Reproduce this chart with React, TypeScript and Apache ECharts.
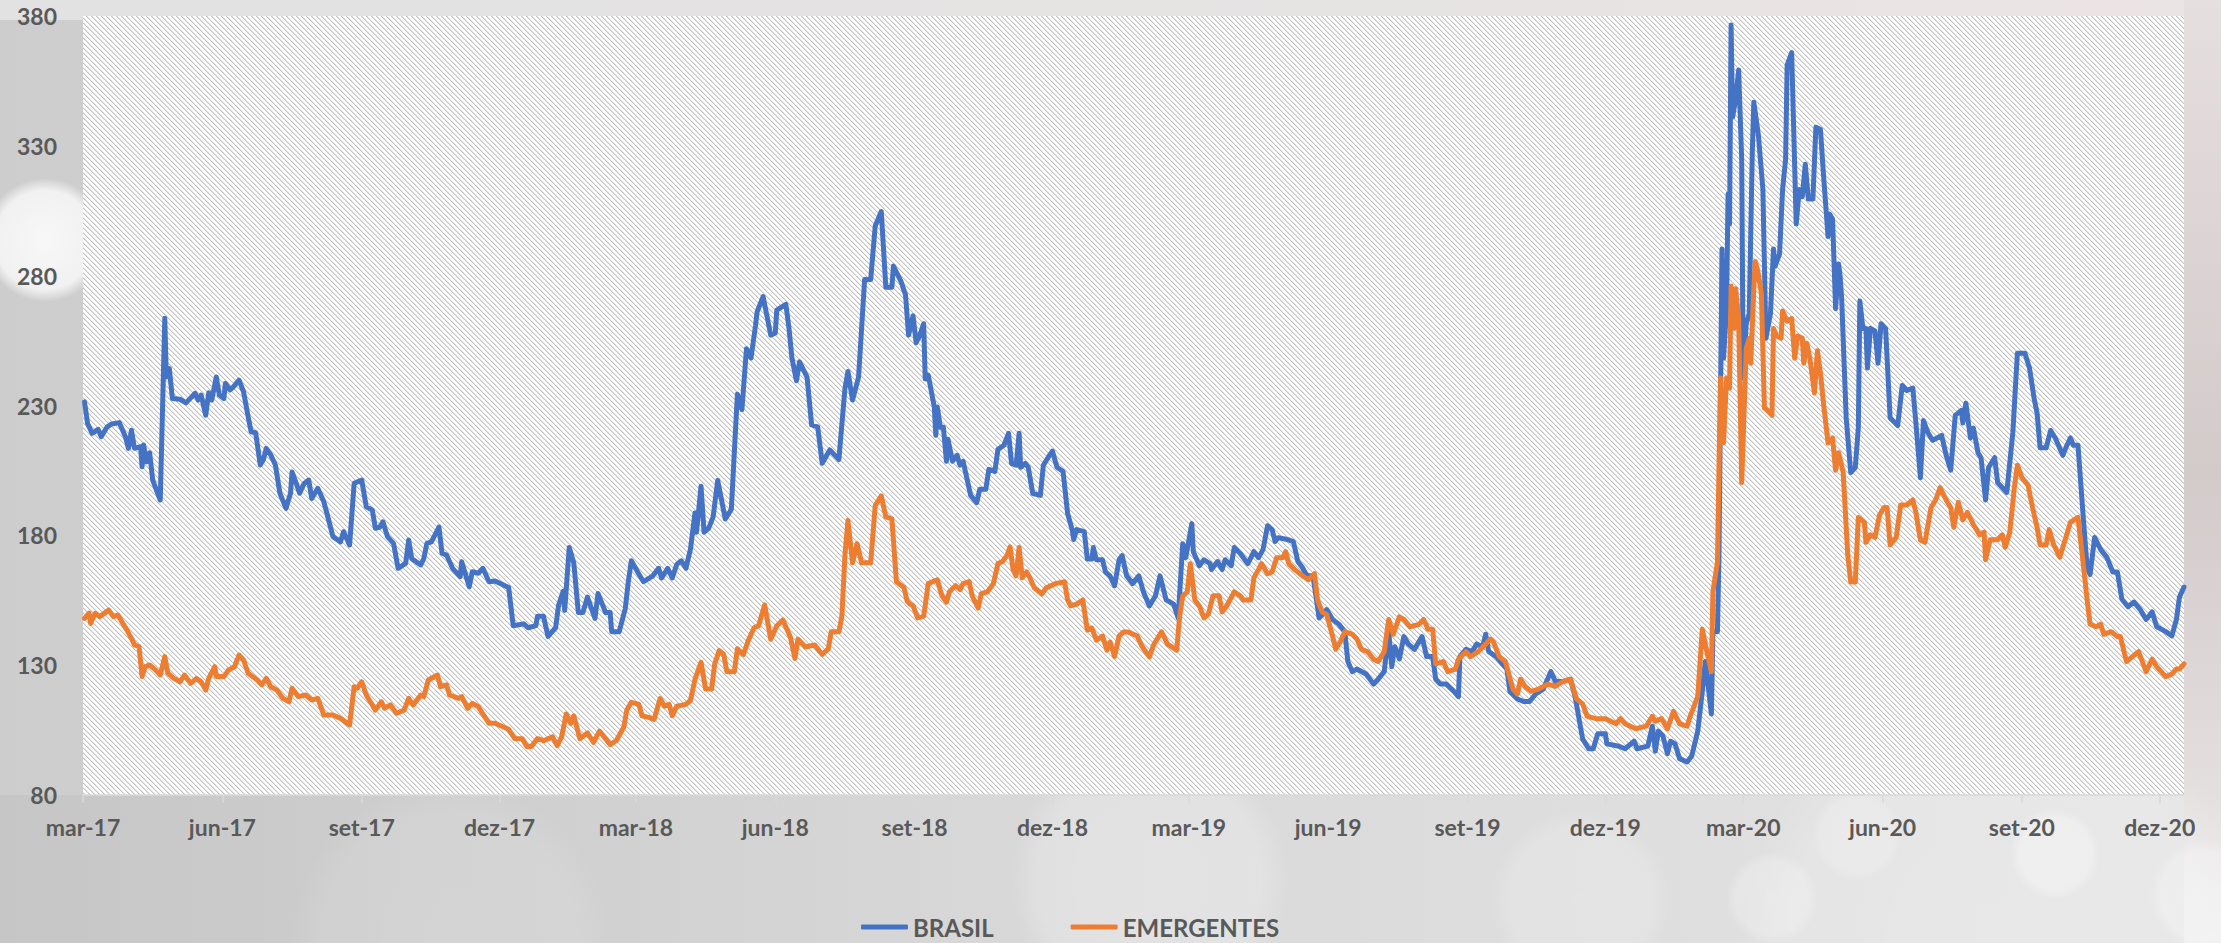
import React, { useEffect, useRef } from "react";
import * as echarts from "echarts";

// ---- axis domain ----
const START_DATE = [2017, 2, 1]; // 2017-03-01 (UTC, month 0-based)
const DAY_COUNT = 1388; // through 2020-12-17
const MONTHS_PT = ["jan", "fev", "mar", "abr", "mai", "jun", "jul", "ago", "set", "out", "nov", "dez"];
const LABEL_MONTHS = ["03", "06", "09", "12"];
const Y_MIN = 80;
const Y_MAX = 380;
const Y_STEP = 50;

// ---- series: [days since 2017-03-01, value] ----
const brasil: [number, number][] = [
  [1,231.4],[3,223.1],[6,219.3],[10,220.8],[12,218],[16,221.8],[19,222.9],[24,223.4],[28,218],[30,213.5],[32,220.5],[34,213.5],[38,214.1],[39,206.4],[40,214.8],[42,208.3],[44,211.8],[46,201.3],[51,193.6],[54,263.6],[55,241],[57,244.2],[59,232.7],[64,232.4],[68,231],[74,234.7],[76,232.1],[78,234],[81,226.3],[83,234.9],[85,232.1],[88,241],[90,234],[93,232.7],[94,238.5],[97,236],[99,237],[103,239.8],[106,235.3],[109,225.7],[111,219.9],[114,219.5],[117,207.1],[119,209],[121,213.5],[124,210.9],[127,207.1],[130,196.2],[134,190.4],[137,196.2],[138,204.4],[140,201.3],[143,196.2],[146,200],[149,201.3],[151,194.2],[155,198.1],[159,192.9],[161,188.5],[165,179.5],[170,177.5],[172,181.4],[176,176.3],[179,200],[184,201.3],[187,191],[191,189.7],[193,182.7],[196,183.2],[198,185.2],[201,179.5],[205,176.9],[208,167.3],[213,169.2],[215,178.2],[217,171.1],[220,169.8],[223,168.6],[225,171.1],[227,176.9],[230,177.5],[235,183.2],[237,173.1],[240,172.4],[244,167.3],[249,164.1],[250,169.8],[252,166],[255,160.2],[257,166],[261,165.4],[264,167.3],[268,162.1],[272,162.4],[281,159.9],[284,145.2],[291,145.9],[294,144.4],[299,145.2],[300,148.8],[304,148.8],[307,141.1],[312,144.4],[314,153.2],[317,158.4],[318,151.1],[321,175.3],[324,169.4],[327,150.3],[330,150.3],[333,156.2],[338,148],[340,157.6],[345,150.3],[348,150.3],[349,142.9],[354,142.9],[358,151.8],[360,162.2],[362,170.2],[367,165],[370,162.2],[376,164.3],[380,167.3],[382,163.6],[386,167.3],[389,163.6],[392,168.8],[395,170.2],[398,167.3],[401,174.6],[404,188.6],[405,181.2],[408,198.9],[410,181.2],[413,182.7],[416,187.1],[419,201.1],[424,186.3],[428,190],[432,234.3],[435,228.4],[438,251.9],[441,248.3],[444,260.9],[445,266],[449,271.9],[454,257.1],[457,257.9],[458,266.7],[464,268.9],[466,260.1],[468,248.3],[471,239.5],[473,246.8],[478,240.9],[481,222.5],[485,221.8],[488,207.8],[493,212.9],[499,209.2],[503,236.5],[505,243.1],[508,232.1],[512,240.9],[516,278.5],[520,278.5],[523,299.1],[527,304.7],[530,275.5],[534,275.5],[535,283.7],[540,277.8],[543,272.6],[545,257.1],[548,264.5],[550,254.2],[552,256.4],[555,261.5],[556,240.2],[558,241.7],[562,229.4],[563,218.5],[564,229.4],[566,221.6],[568,221.6],[570,208.5],[571,217],[574,208.5],[577,210.8],[579,207],[581,208.5],[586,195.4],[590,192.6],[592,197.7],[596,197.7],[598,205.4],[602,204.6],[604,213.1],[608,214.7],[611,219.3],[613,207.7],[616,207],[618,219.3],[619,206.2],[622,207.7],[624,206.2],[627,196.1],[632,195.4],[634,207],[638,210.8],[640,212.4],[643,206.2],[647,204.6],[650,188.4],[653,182.2],[654,178.4],[656,182.2],[661,181.4],[663,170.9],[666,170.9],[667,175.3],[669,170.6],[673,170.6],[675,165.9],[678,164.4],[681,160.6],[684,170.6],[686,172.2],[689,164.4],[693,161.4],[697,164.4],[700,158.3],[704,152.8],[708,156.7],[711,164.4],[715,155.2],[720,153.5],[723,148.2],[726,176.8],[728,171.4],[732,184.5],[733,173.7],[737,168.3],[740,170.6],[744,169.1],[745,166.8],[749,169.9],[752,166.8],[754,170.6],[758,168.3],[760,175.3],[764,173],[767,170.6],[769,169.1],[773,173.7],[776,171.4],[779,174.5],[782,183.7],[785,182.2],[787,177.6],[789,179.1],[795,178.4],[799,177.6],[802,169.9],[805,167.6],[808,164.4],[812,164.4],[816,148.2],[820,150.5],[821,151.4],[825,147.6],[829,145.8],[833,142.9],[835,131.4],[838,127.5],[841,128.5],[847,126.6],[852,122.7],[855,124.6],[859,127.5],[862,142.9],[864,129.4],[866,137.1],[869,132.4],[872,141],[875,138.1],[879,136.1],[884,141],[887,133.3],[891,133.3],[893,124.6],[896,122.7],[900,122.7],[905,119.9],[908,117.9],[909,133.3],[913,136.1],[917,135.2],[920,138.1],[924,137.1],[926,141.9],[928,135.2],[933,133.3],[937,130.5],[940,128.5],[942,119.9],[947,117],[951,116],[955,116],[959,118.9],[964,120.8],[969,127.5],[972,123.7],[977,123.7],[982,124.6],[985,117.9],[990,101.6],[994,97.8],[997,97.8],[1000,103.6],[1005,103.6],[1006,99.7],[1014,98.8],[1018,97.8],[1024,100.7],[1026,97.8],[1033,98.8],[1036,106.5],[1038,96.9],[1040,104.6],[1043,102.7],[1046,95.9],[1048,100.7],[1051,99.7],[1054,94],[1059,92.7],[1062,95],[1066,104.6],[1069,119.9],[1071,131.4],[1075,111.2],[1076,142.9],[1079,142.9],[1080,171.6],[1082,290.3],[1083,248.2],[1085,267.3],[1086,311.4],[1087,299.9],[1088,376.5],[1089,341.1],[1091,347.8],[1093,359.2],[1095,324.8],[1096,240.6],[1098,261.5],[1100,265.4],[1102,327.6],[1103,346.8],[1106,334.3],[1109,313.2],[1111,255.9],[1114,265.4],[1116,290.3],[1117,283.6],[1120,288.4],[1122,313.2],[1124,324.8],[1125,361.1],[1128,365.9],[1131,299.9],[1133,313.2],[1135,310.4],[1137,322.9],[1139,309.5],[1142,309.5],[1144,337.2],[1147,336.3],[1149,318.9],[1152,295.1],[1153,303.7],[1155,301.8],[1157,267.3],[1159,284.5],[1160,279.8],[1161,271.2],[1164,225.2],[1167,204.2],[1170,206.1],[1172,221.4],[1173,270.2],[1175,259.7],[1177,259.7],[1178,244.4],[1180,259.7],[1183,258.7],[1185,246.3],[1187,261.5],[1190,259.7],[1193,225.2],[1198,222.3],[1201,237.7],[1204,235.8],[1208,236.7],[1210,223.3],[1213,202.2],[1215,224.2],[1218,219.5],[1221,216.6],[1224,217.5],[1227,218.5],[1230,210.8],[1233,205.1],[1236,226.2],[1240,228.1],[1241,223.3],[1243,230.9],[1246,217.5],[1248,221.3],[1251,211.8],[1253,209.9],[1256,193.6],[1258,206.1],[1262,209.9],[1264,200.3],[1267,198.4],[1270,196.5],[1274,219.5],[1277,250.1],[1280,250.1],[1282,250.1],[1285,244.4],[1288,232.9],[1290,227.1],[1292,213.7],[1296,213.7],[1299,220.4],[1302,217.5],[1307,210.8],[1309,213.7],[1312,217.5],[1314,214.7],[1317,214.7],[1320,190.8],[1323,167.8],[1325,164.9],[1328,179.2],[1332,174.5],[1336,171.6],[1340,165.9],[1343,165.9],[1346,155.4],[1350,152.5],[1354,154.3],[1358,151.5],[1362,147.6],[1366,150.5],[1369,144.8],[1375,142.9],[1379,141.3],[1382,147.6],[1384,156.2],[1387,160.1]
];

const emergentes: [number, number][] = [
  [1,148],[4,150],[5,146.1],[8,150],[11,148.7],[17,151.2],[20,148.7],[23,149.3],[29,143.5],[32,140.3],[34,137.8],[37,137.1],[39,125.6],[41,129.4],[44,130.1],[48,128.1],[51,126.2],[54,133.3],[56,126.9],[60,124.9],[64,123.6],[67,126.2],[71,123],[75,124.9],[78,123.6],[81,120.4],[83,124.9],[87,129.4],[88,125.6],[93,125.6],[96,128.1],[100,129.4],[103,133.9],[106,132],[109,126.9],[115,124.3],[118,122.4],[121,124.9],[124,121.7],[128,120.4],[132,117.2],[136,115.9],[138,121.1],[142,117.9],[147,118.5],[151,116.6],[155,117.2],[159,110.8],[165,110.8],[170,109.5],[176,107],[179,121.7],[181,121.1],[184,123.6],[187,118.5],[193,112.7],[197,115.9],[199,113.4],[203,114.7],[207,111.5],[212,112.7],[215,117.2],[218,114.7],[223,118.5],[225,117.9],[228,124.3],[234,126.2],[236,121.7],[240,122.4],[242,118.5],[248,117.2],[250,117.9],[254,113.4],[257,115.3],[261,114],[263,112.1],[268,107.6],[272,107.6],[281,105.3],[285,101.7],[290,101.7],[293,98.7],[296,98.7],[300,101.7],[304,100.9],[310,102.4],[313,99],[316,102.4],[319,111.2],[322,107.6],[324,110.5],[328,101.7],[333,103.9],[337,100.3],[341,104.6],[348,99.4],[352,100.9],[357,106.1],[359,112.7],[362,115.7],[367,114.9],[369,110.5],[374,109.8],[377,109.1],[381,117.1],[384,114.2],[387,114.9],[389,110.5],[392,114.2],[398,114.9],[401,116.4],[404,124.5],[408,131.1],[411,120.8],[415,120.8],[417,130.4],[420,135.6],[423,134.1],[425,127.5],[430,127.5],[432,136.3],[436,134.1],[439,139.2],[443,144.4],[446,145.2],[450,153.2],[454,140],[458,145.2],[462,147.4],[467,140.8],[470,132.6],[472,140],[477,137],[483,137.8],[488,134.1],[492,136.3],[494,142.9],[499,142.9],[501,148.8],[503,172.4],[505,185.7],[508,169.4],[511,176.8],[514,169.4],[520,169.4],[523,191.5],[527,195.2],[530,187.1],[534,186.3],[537,162.1],[542,159.9],[544,154.7],[546,153.5],[548,152.8],[551,148.2],[555,148.9],[558,161.4],[564,162.9],[567,156.7],[570,154.3],[572,158.3],[576,160.6],[579,159.1],[581,161.4],[585,162.2],[587,156.7],[591,152],[593,157.5],[597,158.2],[601,161.4],[604,169.1],[607,169.9],[610,172.2],[612,175.6],[614,166.8],[616,164.4],[618,175.3],[620,163.7],[623,165.9],[625,163.7],[628,159.8],[633,157.4],[636,159.8],[642,161.4],[648,162.1],[650,155.1],[652,152.8],[656,153.5],[660,155.1],[663,143.5],[666,144.3],[669,139.6],[673,141.2],[676,135.8],[678,138.9],[681,133.4],[684,141.2],[687,142.8],[690,142.8],[696,141.2],[699,137.4],[704,133.2],[707,138.1],[712,142.8],[716,138.1],[722,135.8],[724,149],[726,156.7],[729,158.2],[731,169.1],[734,155.1],[737,152.8],[740,148.2],[743,149.7],[746,156.7],[750,156.7],[752,150.5],[755,152.8],[760,158.2],[764,156.7],[766,155.1],[771,155.1],[773,163.7],[776,166.8],[778,169.1],[782,165.2],[785,165.9],[788,171.4],[792,171.4],[794,173.7],[796,169.1],[800,166.8],[805,164.4],[809,162.9],[813,165.2],[815,155.1],[818,150.5],[821,149.5],[825,141],[827,136.1],[830,139],[833,142.9],[838,141.9],[841,140],[844,136.1],[848,135.2],[852,132.3],[855,131.4],[859,135.2],[862,147.6],[865,141.9],[869,148.6],[872,147.6],[876,144.8],[882,145.7],[885,147.6],[888,143.8],[891,143.8],[893,130.5],[898,131.4],[901,127.5],[906,128.5],[908,132.3],[913,135.2],[916,133.3],[921,135.2],[926,138.1],[929,140],[931,139],[935,133.3],[939,131.4],[944,120.8],[947,118.9],[949,124.6],[952,121.8],[956,119.9],[961,120.8],[967,122.7],[972,121.8],[977,123.7],[982,124.6],[986,117],[990,115.1],[993,110.3],[999,109.4],[1005,109.4],[1012,107.4],[1015,109.4],[1018,107.4],[1025,105.5],[1032,106.5],[1036,110.3],[1038,108.4],[1042,109.4],[1046,105.5],[1050,112.2],[1054,107.4],[1059,106.5],[1061,110.3],[1066,118],[1069,143.8],[1072,135.2],[1075,127.5],[1076,158.2],[1079,169.7],[1081,240.6],[1083,215.6],[1085,240.6],[1087,236.7],[1088,276],[1090,259.7],[1091,275],[1093,263.5],[1095,200.3],[1098,252],[1100,255.9],[1101,246.3],[1103,275],[1104,285.5],[1106,280.7],[1108,273.1],[1110,229],[1112,228.1],[1115,226.2],[1116,259.7],[1118,256.8],[1121,255.9],[1122,266.4],[1125,262.5],[1128,263.5],[1130,248.2],[1132,256.8],[1135,255.9],[1136,246.3],[1138,254],[1140,248.2],[1143,234.8],[1145,251.1],[1147,242.5],[1149,230.9],[1152,215.6],[1155,217.5],[1157,205.1],[1159,211.8],[1162,204.2],[1165,172.5],[1167,162],[1170,162],[1172,186.9],[1176,185],[1177,177.3],[1180,180.2],[1183,179.2],[1186,187.8],[1189,190.7],[1191,190.7],[1193,176.3],[1197,179.2],[1200,191.7],[1204,191.7],[1208,193.6],[1210,188.8],[1213,178.2],[1216,177.3],[1220,190.7],[1223,193.6],[1226,198.4],[1230,193.6],[1233,190.7],[1235,183.1],[1238,192.7],[1241,186],[1244,188.8],[1248,184.1],[1252,180.2],[1255,181.2],[1256,170.6],[1259,178.3],[1264,178.3],[1267,180.2],[1269,175.4],[1272,181.2],[1275,198.4],[1277,207],[1280,202.2],[1284,199.4],[1287,190.7],[1290,183.1],[1292,176.3],[1296,176.3],[1298,182.2],[1301,176.3],[1305,171.6],[1309,179.2],[1312,185],[1317,186.9],[1320,171.6],[1323,155.4],[1325,145.8],[1329,144.8],[1332,145.8],[1334,141.9],[1339,142.9],[1343,141],[1345,141],[1349,131.4],[1353,133.3],[1357,135.2],[1362,127.5],[1366,132.3],[1369,129.4],[1375,125.6],[1379,126.6],[1382,128.5],[1384,128.5],[1387,130.5]
];

const SERIES_NAMES = ["BRASIL", "EMERGENTES"];
const SERIES_COLORS = ["#4472C4", "#ED7D31"];

function buildDays(): string[] {
  const out: string[] = [];
  const t0 = Date.UTC(START_DATE[0], START_DATE[1], START_DATE[2]);
  for (let i = 0; i < DAY_COUNT; i++) {
    const d = new Date(t0 + i * 86400000);
    const y = d.getUTCFullYear();
    const m = String(d.getUTCMonth() + 1).padStart(2, "0");
    const dd = String(d.getUTCDate()).padStart(2, "0");
    out.push(`${y}-${m}-${dd}`);
  }
  return out;
}

function isQuarterTick(_i: number, v: string): boolean {
  const p = v.split("-");
  return p[2] === "01" && LABEL_MONTHS.indexOf(p[1]) >= 0;
}

function makeHatch(): HTMLCanvasElement {
  const n = 5;
  const c = document.createElement("canvas");
  c.width = n;
  c.height = n;
  const ctx = c.getContext("2d")!;
  ctx.fillStyle = "#ffffff";
  ctx.fillRect(0, 0, n, n);
  for (let i = 0; i < n; i++) {
    ctx.fillStyle = "#c2c2c2";
    ctx.fillRect(i, i, 1, 1);
    ctx.fillStyle = "#e4e4e4";
    ctx.fillRect((i + 1) % n, i, 1, 1);
  }
  return c;
}

function glow(cx: number, cy: number, r: number, a: number) {
  return {
    type: "circle",
    silent: true,
    z: -20,
    shape: { cx, cy, r },
    style: {
      fill: {
        type: "radial",
        x: 0.5,
        y: 0.5,
        r: 0.5,
        colorStops: [
          { offset: 0, color: `rgba(255,255,255,${a})` },
          { offset: 0.8, color: `rgba(255,255,255,${a * 0.85})` },
          { offset: 1, color: "rgba(255,255,255,0)" },
        ],
      },
    },
  };
}

export default function App() {
  const ref = useRef<HTMLDivElement>(null);

  useEffect(() => {
    document.body.style.margin = "0";
    const chart = echarts.init(ref.current!, null, { renderer: "svg" });
    const days = buildDays();
    const hatch = makeHatch();
    const font = "Lato, 'Open Sans', sans-serif";

    const option: any = {
      animation: false,
      backgroundColor: {
        type: "linear",
        x: 0,
        y: 0,
        x2: 1,
        y2: 0,
        colorStops: [
          { offset: 0, color: "#cdcdcd" },
          { offset: 0.5, color: "#d9d9d9" },
          { offset: 1, color: "#e2dede" },
        ],
      },
      graphic: {
        elements: [
          {
            type: "rect",
            silent: true,
            z: -30,
            shape: { x: 0, y: 0, width: 2221, height: 20 },
            style: {
              fill: {
                type: "linear", x: 0, y: 0, x2: 1, y2: 0,
                colorStops: [
                  { offset: 0, color: "#e2e2e2" },
                  { offset: 0.6, color: "#e6e3e3" },
                  { offset: 1, color: "#ece4e4" },
                ],
              },
            },
          },
          {
            type: "rect",
            silent: true,
            z: -30,
            shape: { x: 0, y: 795, width: 2221, height: 148 },
            style: {
              fill: {
                type: "linear", x: 0, y: 0, x2: 1, y2: 0,
                colorStops: [
                  { offset: 0, color: "#c6c6c6" },
                  { offset: 0.45, color: "#d8d8d8" },
                  { offset: 1, color: "#e4e4e4" },
                ],
              },
            },
          },
          {
            type: "rect",
            silent: true,
            z: -30,
            shape: { x: 2184, y: 0, width: 37, height: 943 },
            style: {
              fill: {
                type: "linear", x: 0, y: 0, x2: 0, y2: 1,
                colorStops: [
                  { offset: 0, color: "#e6dfdf" },
                  { offset: 0.5, color: "#d3caca" },
                  { offset: 0.8, color: "#e2dcdc" },
                  { offset: 1, color: "#ececec" },
                ],
              },
            },
          },
          glow(45, 240, 62, 0.85),
          glow(1857, 835, 45, 0.2),
          glow(2055, 854, 45, 0.35),
          glow(1772, 898, 46, 0.25),
          glow(2205, 895, 55, 0.3),
          glow(1580, 900, 90, 0.2),
          glow(1150, 880, 140, 0.25),
          glow(450, 940, 160, 0.12),
          glow(2000, 943, 260, 0.2),
          {
            type: "rect",
            silent: true,
            z: -10,
            shape: { x: 83, y: 16, width: 2101, height: 779 },
            style: {
              fill: { image: hatch, repeat: "repeat", imageWidth: 5, imageHeight: 5 },
            },
          },
        ],
      },
      grid: { left: 83, right: 37, top: 16, bottom: 148, containLabel: false },
      legend: {
        left: 861,
        top: 915,
        padding: 0,
        itemWidth: 47,
        itemHeight: 5,
        itemGap: 77,
        icon: "roundRect",
        data: SERIES_NAMES,
        textStyle: { color: "#595959", fontFamily: font, fontWeight: "bold", fontSize: 24, lineHeight: 24 },
      },
      xAxis: {
        type: "category",
        data: days,
        boundaryGap: false,
        axisLine: { show: true, lineStyle: { color: "#d9d9d9", width: 1.5 } },
        axisTick: { show: true, interval: isQuarterTick, length: 8, lineStyle: { color: "#d9d9d9", width: 1.5 } },
        axisLabel: {
          interval: isQuarterTick,
          margin: 20,
          color: "#595959",
          fontFamily: font,
          fontWeight: "bold",
          fontSize: 23,
          formatter: (v: string) => {
            const p = v.split("-");
            return `${MONTHS_PT[parseInt(p[1], 10) - 1]}-${p[0].slice(2)}`;
          },
        },
        splitLine: { show: false },
      },
      yAxis: {
        type: "value",
        min: Y_MIN,
        max: Y_MAX,
        interval: Y_STEP,
        axisLine: { show: false },
        axisTick: { show: false },
        splitLine: { show: false },
        axisLabel: { margin: 26, color: "#595959", fontFamily: font, fontWeight: "bold", fontSize: 23 },
      },
      series: [
        {
          name: SERIES_NAMES[0],
          type: "line",
          data: brasil,
          symbol: "none",
          showSymbol: false,
          z: 3,
          itemStyle: { color: SERIES_COLORS[0] },
          lineStyle: { color: SERIES_COLORS[0], width: 5, cap: "round", join: "round" },
        },
        {
          name: SERIES_NAMES[1],
          type: "line",
          data: emergentes,
          symbol: "none",
          showSymbol: false,
          z: 4,
          itemStyle: { color: SERIES_COLORS[1] },
          lineStyle: { color: SERIES_COLORS[1], width: 5, cap: "round", join: "round" },
        },
      ],
    };

    chart.setOption(option);
    return () => {
      chart.dispose();
    };
  }, []);

  return <div ref={ref} style={{ width: 2221, height: 943 }} />;
}
